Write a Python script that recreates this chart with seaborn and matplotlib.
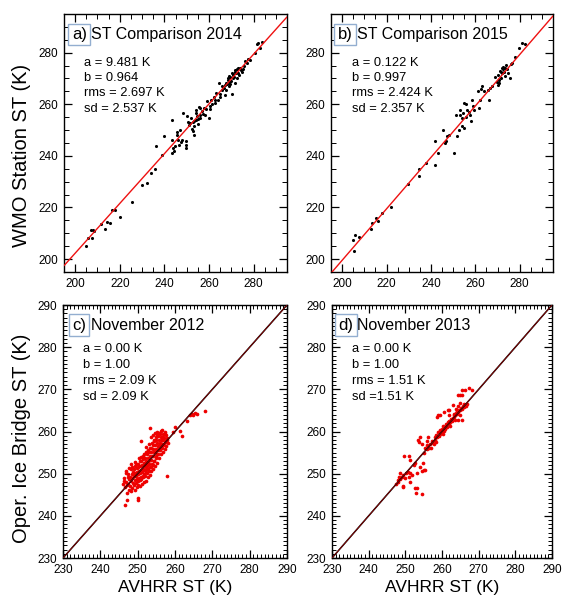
import matplotlib
matplotlib.use("Agg")
import matplotlib.pyplot as plt
import seaborn as sns
import pandas as pd
from matplotlib.ticker import MultipleLocator

# ---------------- data ----------------
a_pts = [
    (204.9, 204.9), (205.9, 208.2), (207.1, 211.2), (207.9, 211.2), (207.4, 208.0), (208.6, 210.9),
    (211.6, 213.5), (213.5, 211.8), (214.3, 214.4), (215.6, 213.9), (216.5, 218.9), (218.0, 218.9),
    (220.2, 216.5), (225.6, 222.3), (230.2, 228.8), (232.4, 229.6), (233.9, 233.2), (235.7, 235.1),
    (236.3, 243.9), (238.8, 240.3), (239.8, 247.8), (243.5, 246.3), (243.5, 241.0), (244.3, 241.8),
    (244.8, 244.0), (245.5, 248.1), (245.8, 249.4), (243.5, 254.0), (246.2, 246.0), (247.3, 245.3),
    (248.0, 246.3), (248.5, 256.8), (249.5, 245.6), (249.5, 244.4), (249.5, 243.1), (250.2, 255.3),
    (251.0, 252.1), (252.0, 254.7), (252.7, 249.5), (253.2, 248.2), (253.2, 251.4), (253.5, 253.6),
    (254.0, 256.6), (254.4, 257.9), (254.7, 255.3), (255.0, 252.5), (255.4, 259.1), (255.9, 256.0),
    (256.2, 254.7), (256.9, 257.3), (257.7, 258.5), (258.4, 256.0), (259.1, 261.1), (259.9, 254.7),
    (260.3, 259.2), (260.9, 261.7), (262.1, 263.0), (262.9, 260.5), (263.3, 264.3), (263.9, 261.7),
    (264.3, 268.2), (265.1, 263.0), (265.8, 265.6), (266.6, 266.2), (267.3, 263.7), (267.8, 268.2),
    (268.4, 269.5), (268.8, 267.2), (269.2, 268.8), (269.5, 270.7), (270.3, 264.0), (270.7, 270.1),
    (271.0, 271.4), (271.5, 268.4), (271.9, 272.7), (272.5, 270.1), (272.8, 273.6), (273.2, 272.0),
    (274.0, 274.0), (274.7, 272.7), (275.2, 273.6), (277.0, 276.1), (277.3, 277.4), (278.5, 277.2),
    (280.7, 279.7), (281.4, 283.2), (282.2, 283.6), (283.7, 284.2), (282.9, 281.7),
    (266.0, 267.0), (267.0, 267.5), (268.0, 268.0), (268.5, 270.0), (269.0, 271.0), (269.8, 269.0),
    (270.2, 272.0), (270.8, 271.8), (271.2, 270.5), (271.7, 273.4), (272.2, 272.3), (273.0, 273.9),
    (273.6, 271.2), (274.3, 273.3), (275.5, 275.0), (276.0, 276.6), (269.5, 268.0), (267.5, 265.5),
    (264.8, 264.0), (262.5, 261.5), (261.5, 260.0), (260.5, 258.0), (258.9, 258.3), (257.2, 256.3),
    (256.0, 258.5), (255.3, 254.3), (254.2, 254.0), (253.0, 253.3), (252.4, 250.5), (251.5, 252.8),
    (250.7, 253.2), (247.0, 250.0), (246.5, 244.4), (244.0, 243.0),
]

b_pts = [
    (204.9, 207.5), (205.2, 203.2), (205.9, 209.3), (207.7, 208.5), (212.9, 211.6), (213.5, 213.9),
    (215.3, 216.1), (216.0, 214.8), (218.1, 217.7), (222.2, 220.3), (229.6, 229.3), (234.8, 232.2),
    (234.8, 235.0), (237.8, 237.3), (241.9, 236.4), (241.9, 245.7), (243.0, 241.2), (245.5, 249.9),
    (246.4, 245.0), (247.0, 245.7), (247.4, 247.6), (248.1, 248.2), (250.4, 241.2), (251.1, 255.7),
    (251.9, 247.6), (252.6, 250.2), (252.9, 255.9), (253.3, 257.9), (253.8, 254.7), (254.1, 251.4),
    (254.4, 256.6), (254.8, 250.8), (254.9, 260.4), (255.6, 260.1), (255.9, 255.0), (256.3, 257.9),
    (257.0, 257.2), (257.8, 255.9), (258.2, 253.4), (258.5, 261.8), (258.8, 259.4), (259.3, 257.9),
    (261.2, 265.0), (261.5, 258.5), (261.9, 261.8), (262.5, 265.9), (263.0, 266.9), (263.7, 265.0),
    (265.9, 265.6), (266.2, 261.5), (266.8, 266.2), (267.4, 266.9), (268.9, 270.7), (269.6, 268.8),
    (270.1, 271.4), (270.4, 267.5), (270.7, 269.5), (271.1, 273.1), (271.6, 270.1), (271.9, 274.0),
    (272.1, 272.0), (272.6, 274.6), (273.0, 272.7), (273.3, 271.0), (273.8, 275.3), (274.1, 273.6),
    (274.8, 272.3), (275.6, 270.1), (276.3, 275.6), (276.7, 276.1), (277.8, 278.2), (279.9, 281.9),
    (281.1, 283.6), (282.3, 283.3), (272.4, 273.5), (273.5, 274.2), (271.4, 272.4), (270.6, 268.4),
]

c_pts = [
    (246.1, 247.5), (246.3, 248.3), (246.6, 246.8), (246.4, 249.0), (246.8, 250.1),
    (247.1, 247.3), (246.9, 248.0), (247.3, 249.3), (247.0, 250.6), (247.2, 245.5),
    (247.6, 246.1), (247.4, 247.6), (247.8, 248.7), (247.5, 249.9), (247.7, 251.3),
    (248.1, 245.9), (247.9, 247.1), (248.3, 248.2), (248.0, 249.1), (248.4, 250.0), (248.2, 251.1), (248.1, 252.2),
    (248.6, 246.6), (248.8, 247.8), (248.5, 249.0), (248.9, 249.6), (248.7, 250.5), (248.6, 251.6),
    (249.2, 246.1), (249.0, 247.3), (249.3, 248.4), (249.1, 249.4), (249.4, 250.2), (249.0, 251.1), (249.3, 251.9), (249.2, 252.7),
    (249.7, 246.9), (249.5, 247.8), (249.8, 248.7), (249.6, 249.5), (249.9, 250.5), (249.7, 251.4), (249.5, 252.3),
    (250.2, 247.3), (250.0, 248.2), (250.3, 249.0), (250.1, 249.9), (250.4, 250.7), (250.2, 251.5), (250.0, 252.4), (250.3, 253.6),
    (250.7, 247.0), (250.5, 248.5), (250.8, 249.2), (250.6, 250.1), (250.9, 250.9), (250.7, 251.8), (250.5, 252.9), (250.8, 254.0),
    (251.2, 247.6), (251.0, 248.7), (251.3, 249.5), (251.1, 250.4), (251.4, 251.2), (251.2, 252.1), (251.0, 253.0), (251.3, 254.3), (251.0, 257.8),
    (251.7, 248.0), (251.5, 249.1), (251.8, 250.0), (251.6, 250.9), (251.9, 251.7), (251.7, 252.5), (251.5, 253.5), (251.8, 254.7),
    (252.2, 248.3), (252.0, 249.4), (252.3, 250.4), (252.1, 251.2), (252.4, 252.1), (252.2, 252.9), (252.0, 253.8), (252.3, 255.1), (252.1, 256.3),
    (252.7, 249.1), (252.5, 250.1), (252.8, 251.0), (252.6, 251.9), (252.9, 252.7), (252.7, 253.6), (252.5, 254.6), (252.8, 255.6),
    (253.2, 249.7), (253.0, 250.7), (253.3, 251.6), (253.1, 252.4), (253.4, 253.3), (253.2, 254.1), (253.0, 255.1), (253.3, 256.1), (253.1, 257.1),
    (253.7, 250.6), (253.5, 251.5), (253.8, 252.4), (253.6, 253.3), (253.9, 254.2), (253.7, 255.1), (253.5, 256.1), (253.8, 257.3), (253.6, 258.6),
    (254.2, 251.1), (254.0, 252.1), (254.3, 253.1), (254.1, 254.1), (254.4, 255.1), (254.2, 255.9), (254.0, 256.9), (254.3, 257.9), (254.1, 259.1),
    (254.7, 251.9), (254.5, 253.1), (254.8, 254.1), (254.6, 255.1), (254.9, 255.9), (254.7, 256.9), (254.5, 257.7), (254.8, 258.7), (254.6, 259.6),
    (255.2, 252.6), (255.0, 253.7), (255.3, 254.7), (255.1, 255.6), (255.4, 256.5), (255.2, 257.3), (255.0, 258.1), (255.3, 259.1), (255.1, 259.9),
    (255.7, 253.6), (255.5, 254.6), (255.8, 255.6), (255.6, 256.4), (255.9, 257.3), (255.7, 258.1), (255.5, 258.9), (255.8, 259.7),
    (256.2, 254.6), (256.0, 255.5), (256.3, 256.4), (256.1, 257.1), (256.4, 257.9), (256.2, 258.6), (256.0, 259.4), (256.3, 260.1),
    (256.7, 255.1), (256.5, 256.1), (256.8, 257.1), (256.6, 257.9), (256.9, 258.7), (256.7, 259.5), (256.5, 260.3),
    (257.2, 255.9), (257.0, 256.9), (257.3, 257.7), (257.1, 258.5), (257.4, 259.3), (257.2, 259.9),
    (257.7, 256.6), (257.5, 257.6), (257.8, 258.4), (257.6, 259.1), (258.1, 257.3), (257.9, 258.1),
    (253.3, 260.8), (257.8, 249.5), (246.6, 242.5), (247.2, 243.7), (250.1, 244.3), (250.1, 243.7),
    (256.4, 257.0), (260.0, 261.0), (261.8, 259.0), (261.3, 260.2), (259.5, 259.8), (264.0, 263.8),
    (264.5, 264.2), (264.9, 264.0), (265.4, 264.5), (265.8, 264.2), (268.0, 264.8), (263.1, 262.6),
]

d_pts = [
    (247.5, 247.6), (247.9, 248.6), (248.2, 249.2), (248.6, 248.7), (249.1, 249.3), (249.5, 249.7),
    (250.0, 248.9), (250.3, 250.1), (250.6, 250.5), (250.9, 249.3), (251.4, 250.2), (251.8, 249.7),
    (249.7, 254.1), (250.9, 254.3), (251.4, 253.3), (249.3, 247.0), (251.2, 248.0), (252.3, 252.1),
    (252.7, 252.5), (253.2, 250.1), (253.2, 246.5), (254.5, 245.2), (253.0, 245.4), (254.5, 250.6),
    (255.2, 250.9), (254.8, 252.6), (255.2, 255.0), (255.9, 255.8), (255.9, 257.8), (256.1, 258.6),
    (256.8, 257.0), (257.3, 257.8), (257.7, 257.0), (258.2, 258.0), (258.6, 258.6), (259.1, 259.0),
    (259.5, 259.4), (260.0, 259.8), (260.5, 260.2), (260.9, 260.6), (261.4, 261.0), (261.8, 261.8),
    (262.3, 262.2), (262.7, 262.6), (263.2, 263.4), (263.6, 263.8), (264.1, 264.2), (264.5, 264.6),
    (265.0, 265.0), (265.5, 265.4), (265.9, 265.8), (266.4, 266.2), (258.6, 263.4), (260.5, 264.6),
    (261.8, 265.0), (263.2, 264.2), (264.5, 268.6), (265.5, 269.8), (266.4, 269.8), (267.3, 270.2),
    (268.2, 269.8), (265.0, 266.8), (253.6, 257.5), (254.1, 258.6), (265.5, 262.8), (264.4, 262.7),
    (259.0, 263.9), (259.5, 263.9), (261.6, 265.1), (263.0, 266.3), (264.9, 268.7), (265.5, 268.7),
    (248.5, 250.2), (249.4, 246.8), (252.6, 246.6), (254.0, 251.6), (255.4, 250.9), (248.0, 248.0),
    (253.5, 258.0), (254.5, 257.0), (256.0, 256.8), (257.5, 257.3), (258.0, 258.6), (258.5, 259.2),
    (259.0, 259.8), (259.5, 260.3), (260.0, 260.5), (260.3, 261.2), (260.8, 261.0), (261.2, 261.8),
    (261.6, 262.2), (262.0, 262.6), (262.5, 263.0), (263.0, 263.2), (263.4, 263.9), (263.8, 264.4),
    (264.2, 264.8), (264.7, 265.2), (265.2, 265.6), (265.7, 266.0), (266.0, 266.6), (266.6, 266.0),
    (262.2, 261.4), (263.5, 262.8), (264.8, 264.0), (260.2, 259.5), (258.3, 257.5), (257.0, 256.2),
    (262.0, 264.0), (263.8, 265.4), (264.3, 266.0), (256.5, 256.0), (255.5, 256.2), (266.9, 266.5),
]

panels = [
    dict(key="a", pts=a_pts, title="ST Comparison 2014", color="black",
         stats=["a = 9.481 K", "b = 0.964", "rms = 2.697 K", "sd = 2.537 K"],
         fit_a=9.481, fit_b=0.964, lim=(195, 295), major=20, minor=5,
         rect=(64, 287, 14, 272), box_x=0.035, stats_x=0.09),
    dict(key="b", pts=b_pts, title="ST Comparison 2015", color="black",
         stats=["a = 0.122 K", "b = 0.997", "rms = 2.424 K", "sd = 2.357 K"],
         fit_a=0.122, fit_b=0.997, lim=(195, 295), major=20, minor=5,
         rect=(331, 553, 14, 272), box_x=0.03, stats_x=0.095),
    dict(key="c", pts=c_pts, title="November 2012", color="#ee0000",
         stats=["a = 0.00 K", "b = 1.00", "rms = 2.09 K", "sd = 2.09 K"],
         fit_a=0.0, fit_b=1.0, lim=(230, 290), major=10, minor=1,
         rect=(63, 287, 305, 558), box_x=0.04, stats_x=0.09),
    dict(key="d", pts=d_pts, title="November 2013", color="#ee0000",
         stats=["a = 0.00 K", "b = 1.00", "rms = 1.51 K", "sd =1.51 K"],
         fit_a=0.0, fit_b=1.0, lim=(230, 290), major=10, minor=1,
         rect=(332, 552, 305, 558), box_x=0.03, stats_x=0.092),
]

# ---------------- figure ----------------
sns.set_style("ticks")
plt.rcParams['font.family'] = ['Liberation Sans', 'DejaVu Sans']
plt.rcParams['axes.linewidth'] = 1.0
for k in ("text.color", "axes.labelcolor", "xtick.color", "ytick.color"):
    plt.rcParams[k] = "black"

W, H = 563, 601
fig = plt.figure(figsize=(W / 100, H / 100), dpi=100)


def rect(l, r, t, b):
    return [l / W, 1 - b / H, (r - l) / W, (b - t) / H]


axes = {}
for p in panels:
    ax = fig.add_axes(rect(*p["rect"]))
    axes[p["key"]] = ax
    df = pd.DataFrame(p["pts"], columns=["x", "y"])
    lo, hi = p["lim"]
    if p["key"] in ("a", "b"):
        ax.axline((0, p["fit_a"]), slope=p["fit_b"], color="#ee1111", lw=1.0, zorder=3)
        sns.scatterplot(data=df, x="x", y="y", ax=ax, color=p["color"], s=5,
                        linewidth=0, zorder=2)
    else:
        sns.scatterplot(data=df, x="x", y="y", ax=ax, color=p["color"], s=7,
                        linewidth=0, zorder=2)
        ax.axline((0, p["fit_a"]), slope=p["fit_b"], color="black", lw=1.1, zorder=3)
        ax.axline((0, p["fit_a"]), slope=p["fit_b"], color="#cc0000", lw=0.4, zorder=4)
    ax.set_xlim(lo, hi)
    ax.set_ylim(lo, hi)
    ax.xaxis.set_major_locator(MultipleLocator(p["major"]))
    ax.yaxis.set_major_locator(MultipleLocator(p["major"]))
    ax.xaxis.set_minor_locator(MultipleLocator(p["minor"]))
    ax.yaxis.set_minor_locator(MultipleLocator(p["minor"]))
    ax.tick_params(which="both", direction="in", top=True, right=True,
                   labelsize=8.5, color="black", width=0.9)
    ax.tick_params(which="major", length=6, pad=4)
    ax.tick_params(which="minor", length=3.5 if p["minor"] > 1 else 3, width=0.7)
    for s in ax.spines.values():
        s.set_visible(True)
        s.set_color("black")
    ax.set_xlabel("")
    ax.set_ylabel("")
    # panel tag + title
    ax.text(p["box_x"], 0.92, p["key"] + ")", transform=ax.transAxes, fontsize=12,
            va="center", ha="left",
            bbox=dict(boxstyle="square,pad=0.2", fc="white", ec="#93aed0", lw=1.0))
    ax.text(p["box_x"] + 0.085, 0.92, p["title"], transform=ax.transAxes,
            fontsize=11.5, va="center", ha="left")
    y0 = 0.812 if p["key"] in ("a", "b") else 0.826
    dy = 0.06 if p["key"] in ("a", "b") else 0.063
    for i, line in enumerate(p["stats"]):
        ax.text(p["stats_x"], y0 - i * dy, line, transform=ax.transAxes,
                fontsize=9.3, va="center", ha="left")

axes["a"].set_ylabel("WMO Station ST (K)", fontsize=14.5)
axes["a"].yaxis.set_label_coords(-0.148, 0.45)
axes["c"].set_ylabel("Oper. Ice Bridge ST (K)", fontsize=14.5)
axes["c"].yaxis.set_label_coords(-0.145, 0.474)
axes["c"].set_xlabel("AVHRR ST (K)", fontsize=12.5, labelpad=3)
axes["d"].set_xlabel("AVHRR ST (K)", fontsize=12.5, labelpad=3)

fig.savefig("out.png", dpi=100)
